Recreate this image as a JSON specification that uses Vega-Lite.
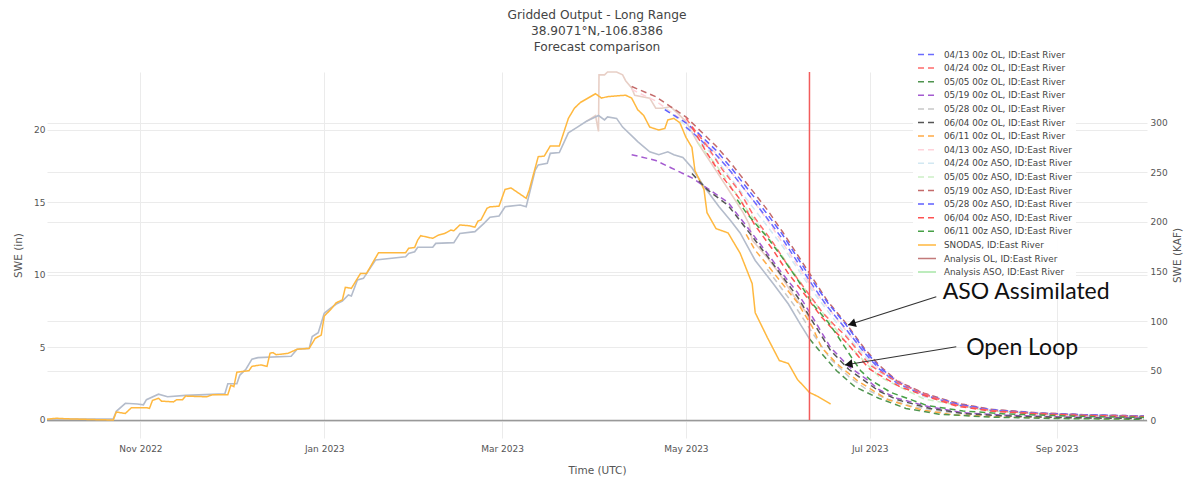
{
"$schema": "https://vega.github.io/schema/vega-lite/v6.json",
"width": 1100, "height": 366,
"autosize": {"type": "none"},
"padding": {"left": 47, "top": 72, "right": 38, "bottom": 44},
"background": "white",
"title": {"text": ["Gridded Output - Long Range", "38.9071°N,-106.8386", "Forecast comparison"], "font": "DejaVu Sans", "fontSize": 12.2, "fontWeight": "normal", "color": "#444", "lineHeight": 16, "anchor": "middle", "offset": -9},
"config": {"view": {"stroke": null}, "axis": {"domain": false, "ticks": false, "labelFont": "DejaVu Sans", "labelFontSize": 9, "labelColor": "#555", "titleFont": "DejaVu Sans", "titleFontSize": 10.5, "titleFontWeight": "normal", "titleColor": "#555", "gridColor": "#ebebeb", "gridWidth": 1}},
"datasets": {
"an": [
{"s":"OL","d":"2022-10-01","v":0.05},{"s":"OL","d":"2022-10-23","v":0.08},{"s":"OL","d":"2022-10-24","v":0.6},{"s":"OL","d":"2022-10-27","v":1.15},{"s":"OL","d":"2022-10-31","v":1.1},{"s":"OL","d":"2022-11-02","v":1.05},{"s":"OL","d":"2022-11-03","v":1.4},{"s":"OL","d":"2022-11-07","v":1.78},{"s":"OL","d":"2022-11-10","v":1.6},{"s":"OL","d":"2022-11-16","v":1.7},{"s":"OL","d":"2022-11-29","v":1.8},{"s":"OL","d":"2022-11-30","v":2.5},{"s":"OL","d":"2022-12-03","v":2.5},{"s":"OL","d":"2022-12-04","v":3.1},{"s":"OL","d":"2022-12-06","v":3.5},{"s":"OL","d":"2022-12-08","v":4.2},{"s":"OL","d":"2022-12-10","v":4.3},{"s":"OL","d":"2022-12-21","v":4.4},{"s":"OL","d":"2022-12-23","v":4.88},{"s":"OL","d":"2022-12-27","v":4.94},{"s":"OL","d":"2022-12-28","v":5.75},{"s":"OL","d":"2022-12-30","v":6.02},{"s":"OL","d":"2023-01-01","v":7.36},{"s":"OL","d":"2023-01-03","v":7.7},{"s":"OL","d":"2023-01-05","v":8.0},{"s":"OL","d":"2023-01-07","v":8.2},{"s":"OL","d":"2023-01-09","v":8.62},{"s":"OL","d":"2023-01-10","v":8.55},{"s":"OL","d":"2023-01-12","v":9.66},{"s":"OL","d":"2023-01-14","v":9.77},{"s":"OL","d":"2023-01-18","v":11.03},{"s":"OL","d":"2023-01-28","v":11.26},{"s":"OL","d":"2023-01-29","v":11.49},{"s":"OL","d":"2023-01-31","v":11.6},{"s":"OL","d":"2023-02-01","v":11.91},{"s":"OL","d":"2023-02-06","v":11.91},{"s":"OL","d":"2023-02-07","v":12.18},{"s":"OL","d":"2023-02-13","v":12.23},{"s":"OL","d":"2023-02-15","v":12.87},{"s":"OL","d":"2023-02-20","v":12.99},{"s":"OL","d":"2023-02-23","v":13.56},{"s":"OL","d":"2023-02-25","v":13.98},{"s":"OL","d":"2023-02-28","v":14.07},{"s":"OL","d":"2023-03-02","v":14.71},{"s":"OL","d":"2023-03-07","v":14.83},{"s":"OL","d":"2023-03-09","v":14.71},{"s":"OL","d":"2023-03-12","v":17.24},{"s":"OL","d":"2023-03-13","v":17.59},{"s":"OL","d":"2023-03-16","v":17.7},{"s":"OL","d":"2023-03-17","v":18.39},{"s":"OL","d":"2023-03-20","v":18.45},{"s":"OL","d":"2023-03-23","v":19.8},{"s":"OL","d":"2023-03-26","v":20.2},{"s":"OL","d":"2023-03-29","v":20.6},{"s":"OL","d":"2023-04-02","v":21.0},{"s":"OL","d":"2023-04-04","v":20.7},{"s":"OL","d":"2023-04-05","v":20.9},{"s":"OL","d":"2023-04-08","v":20.8},{"s":"OL","d":"2023-04-10","v":20.2},{"s":"OL","d":"2023-04-14","v":19.4},{"s":"OL","d":"2023-04-15","v":19.2},{"s":"OL","d":"2023-04-19","v":18.5},{"s":"OL","d":"2023-04-22","v":18.3},{"s":"OL","d":"2023-04-25","v":18.5},{"s":"OL","d":"2023-04-27","v":18.3},{"s":"OL","d":"2023-04-30","v":18.1},{"s":"OL","d":"2023-05-03","v":17.4},{"s":"OL","d":"2023-05-07","v":16.1},{"s":"OL","d":"2023-05-12","v":14.7},{"s":"OL","d":"2023-05-16","v":13.7},{"s":"OL","d":"2023-05-19","v":12.9},{"s":"OL","d":"2023-05-24","v":11.0},{"s":"OL","d":"2023-05-30","v":9.4},{"s":"OL","d":"2023-06-04","v":8.0},{"s":"OL","d":"2023-06-08","v":6.6},{"s":"OL","d":"2023-06-11","v":5.6},
{"s":"ASO","d":"2023-03-29","v":20.6},{"s":"ASO","d":"2023-04-01","v":21.0},{"s":"ASO","d":"2023-04-02","v":19.9},{"s":"ASO","d":"2023-04-02T04:00:00Z","v":23.8},{"s":"ASO","d":"2023-04-04","v":23.8},{"s":"ASO","d":"2023-04-05","v":24.0},{"s":"ASO","d":"2023-04-08","v":24.0},{"s":"ASO","d":"2023-04-10","v":23.8},{"s":"ASO","d":"2023-04-11","v":23.4},{"s":"ASO","d":"2023-04-13","v":22.9},{"s":"ASO","d":"2023-04-14","v":22.4},{"s":"ASO","d":"2023-04-19","v":22.2},{"s":"ASO","d":"2023-04-21","v":21.5},{"s":"ASO","d":"2023-04-23","v":21.5},{"s":"ASO","d":"2023-04-26","v":21.6},{"s":"ASO","d":"2023-04-28","v":21.2},{"s":"ASO","d":"2023-05-01","v":20.6},{"s":"ASO","d":"2023-05-05","v":19.1},{"s":"ASO","d":"2023-05-11","v":17.2},{"s":"ASO","d":"2023-05-16","v":15.6},{"s":"ASO","d":"2023-05-20","v":14.3},{"s":"ASO","d":"2023-05-22","v":13.5},{"s":"ASO","d":"2023-05-23","v":12.4},{"s":"ASO","d":"2023-05-28","v":11.2},{"s":"ASO","d":"2023-06-01","v":10.1},{"s":"ASO","d":"2023-06-06","v":8.5},{"s":"ASO","d":"2023-06-10","v":7.4},{"s":"ASO","d":"2023-06-11","v":6.9}
],
"fc": [
{"s":"SNODAS","d":"2022-10-01","v":0.05},{"s":"SNODAS","d":"2022-10-04","v":0.12},{"s":"SNODAS","d":"2022-10-08","v":0.08},{"s":"SNODAS","d":"2022-10-18","v":0.02},{"s":"SNODAS","d":"2022-10-23","v":0.0},{"s":"SNODAS","d":"2022-10-24","v":0.55},{"s":"SNODAS","d":"2022-10-27","v":0.45},{"s":"SNODAS","d":"2022-10-29","v":0.85},{"s":"SNODAS","d":"2022-11-03","v":0.85},{"s":"SNODAS","d":"2022-11-04","v":0.8},{"s":"SNODAS","d":"2022-11-05","v":1.35},{"s":"SNODAS","d":"2022-11-07","v":1.5},{"s":"SNODAS","d":"2022-11-08","v":1.3},{"s":"SNODAS","d":"2022-11-12","v":1.25},{"s":"SNODAS","d":"2022-11-13","v":1.4},{"s":"SNODAS","d":"2022-11-15","v":1.4},{"s":"SNODAS","d":"2022-11-16","v":1.65},{"s":"SNODAS","d":"2022-11-23","v":1.6},{"s":"SNODAS","d":"2022-11-25","v":1.75},{"s":"SNODAS","d":"2022-11-30","v":1.75},{"s":"SNODAS","d":"2022-12-01","v":2.4},{"s":"SNODAS","d":"2022-12-02","v":2.3},{"s":"SNODAS","d":"2022-12-03","v":3.3},{"s":"SNODAS","d":"2022-12-07","v":3.4},{"s":"SNODAS","d":"2022-12-08","v":3.7},{"s":"SNODAS","d":"2022-12-11","v":3.8},{"s":"SNODAS","d":"2022-12-13","v":3.7},{"s":"SNODAS","d":"2022-12-14","v":4.6},{"s":"SNODAS","d":"2022-12-15","v":4.65},{"s":"SNODAS","d":"2022-12-16","v":4.5},{"s":"SNODAS","d":"2022-12-20","v":4.6},{"s":"SNODAS","d":"2022-12-23","v":4.88},{"s":"SNODAS","d":"2022-12-27","v":4.94},{"s":"SNODAS","d":"2022-12-29","v":5.63},{"s":"SNODAS","d":"2022-12-31","v":5.86},{"s":"SNODAS","d":"2023-01-01","v":7.17},{"s":"SNODAS","d":"2023-01-03","v":7.59},{"s":"SNODAS","d":"2023-01-05","v":8.09},{"s":"SNODAS","d":"2023-01-07","v":8.28},{"s":"SNODAS","d":"2023-01-08","v":9.15},{"s":"SNODAS","d":"2023-01-10","v":9.08},{"s":"SNODAS","d":"2023-01-13","v":10.1},{"s":"SNODAS","d":"2023-01-15","v":10.1},{"s":"SNODAS","d":"2023-01-19","v":11.54},{"s":"SNODAS","d":"2023-01-28","v":11.54},{"s":"SNODAS","d":"2023-01-29","v":11.84},{"s":"SNODAS","d":"2023-01-31","v":11.9},{"s":"SNODAS","d":"2023-02-01","v":12.41},{"s":"SNODAS","d":"2023-02-02","v":12.71},{"s":"SNODAS","d":"2023-02-06","v":12.53},{"s":"SNODAS","d":"2023-02-08","v":12.76},{"s":"SNODAS","d":"2023-02-10","v":12.87},{"s":"SNODAS","d":"2023-02-12","v":13.1},{"s":"SNODAS","d":"2023-02-13","v":13.05},{"s":"SNODAS","d":"2023-02-15","v":13.45},{"s":"SNODAS","d":"2023-02-18","v":13.4},{"s":"SNODAS","d":"2023-02-20","v":13.3},{"s":"SNODAS","d":"2023-02-21","v":13.72},{"s":"SNODAS","d":"2023-02-22","v":13.8},{"s":"SNODAS","d":"2023-02-24","v":14.6},{"s":"SNODAS","d":"2023-02-25","v":14.7},{"s":"SNODAS","d":"2023-02-28","v":14.75},{"s":"SNODAS","d":"2023-03-02","v":15.91},{"s":"SNODAS","d":"2023-03-04","v":16.0},{"s":"SNODAS","d":"2023-03-09","v":15.29},{"s":"SNODAS","d":"2023-03-10","v":15.86},{"s":"SNODAS","d":"2023-03-13","v":18.16},{"s":"SNODAS","d":"2023-03-15","v":18.2},{"s":"SNODAS","d":"2023-03-17","v":18.9},{"s":"SNODAS","d":"2023-03-20","v":18.9},{"s":"SNODAS","d":"2023-03-23","v":20.8},{"s":"SNODAS","d":"2023-03-25","v":21.5},{"s":"SNODAS","d":"2023-03-27","v":21.9},{"s":"SNODAS","d":"2023-04-01","v":22.5},{"s":"SNODAS","d":"2023-04-03","v":22.2},{"s":"SNODAS","d":"2023-04-05","v":22.3},{"s":"SNODAS","d":"2023-04-11","v":22.4},{"s":"SNODAS","d":"2023-04-13","v":22.2},{"s":"SNODAS","d":"2023-04-15","v":21.4},{"s":"SNODAS","d":"2023-04-17","v":21.0},{"s":"SNODAS","d":"2023-04-19","v":20.2},{"s":"SNODAS","d":"2023-04-22","v":20.0},{"s":"SNODAS","d":"2023-04-24","v":20.1},{"s":"SNODAS","d":"2023-04-25","v":20.7},{"s":"SNODAS","d":"2023-04-27","v":20.8},{"s":"SNODAS","d":"2023-04-29","v":20.5},{"s":"SNODAS","d":"2023-05-01","v":19.5},{"s":"SNODAS","d":"2023-05-03","v":18.8},{"s":"SNODAS","d":"2023-05-04","v":17.2},{"s":"SNODAS","d":"2023-05-07","v":15.9},{"s":"SNODAS","d":"2023-05-08","v":14.3},{"s":"SNODAS","d":"2023-05-11","v":13.2},{"s":"SNODAS","d":"2023-05-15","v":12.9},{"s":"SNODAS","d":"2023-05-19","v":11.5},{"s":"SNODAS","d":"2023-05-23","v":9.4},{"s":"SNODAS","d":"2023-05-24","v":7.4},{"s":"SNODAS","d":"2023-05-28","v":5.7},{"s":"SNODAS","d":"2023-06-01","v":4.1},{"s":"SNODAS","d":"2023-06-04","v":3.9},{"s":"SNODAS","d":"2023-06-07","v":2.8},{"s":"SNODAS","d":"2023-06-11","v":1.9},{"s":"SNODAS","d":"2023-06-14","v":1.6},{"s":"SNODAS","d":"2023-06-18","v":1.1},
{"s":"04/13 00z ASO","d":"2023-04-13","v":22.8},{"s":"04/13 00z ASO","d":"2023-04-21","v":22.0},{"s":"04/13 00z ASO","d":"2023-05-01","v":20.5},{"s":"04/13 00z ASO","d":"2023-05-11","v":18.4},{"s":"04/13 00z ASO","d":"2023-05-22","v":15.5},{"s":"04/13 00z ASO","d":"2023-05-28","v":13.8},{"s":"04/13 00z ASO","d":"2023-06-04","v":11.6},{"s":"04/13 00z ASO","d":"2023-06-12","v":9.1},{"s":"04/13 00z ASO","d":"2023-06-23","v":6.2},{"s":"04/13 00z ASO","d":"2023-07-04","v":3.5},{"s":"04/13 00z ASO","d":"2023-07-19","v":1.7},{"s":"04/13 00z ASO","d":"2023-08-10","v":0.7},{"s":"04/13 00z ASO","d":"2023-09-10","v":0.35},{"s":"04/13 00z ASO","d":"2023-09-30","v":0.26},
{"s":"04/24 00z ASO","d":"2023-04-24","v":21.5},{"s":"04/24 00z ASO","d":"2023-05-01","v":20.3},{"s":"04/24 00z ASO","d":"2023-05-11","v":18.0},{"s":"04/24 00z ASO","d":"2023-05-22","v":15.0},{"s":"04/24 00z ASO","d":"2023-06-02","v":12.0},{"s":"04/24 00z ASO","d":"2023-06-12","v":8.9},{"s":"04/24 00z ASO","d":"2023-06-23","v":5.9},{"s":"04/24 00z ASO","d":"2023-07-04","v":3.3},{"s":"04/24 00z ASO","d":"2023-07-19","v":1.6},{"s":"04/24 00z ASO","d":"2023-08-10","v":0.65},{"s":"04/24 00z ASO","d":"2023-09-10","v":0.33},{"s":"04/24 00z ASO","d":"2023-09-30","v":0.25},
{"s":"05/05 00z ASO","d":"2023-05-05","v":19.1},{"s":"05/05 00z ASO","d":"2023-05-11","v":17.6},{"s":"05/05 00z ASO","d":"2023-05-22","v":14.3},{"s":"05/05 00z ASO","d":"2023-06-02","v":11.3},{"s":"05/05 00z ASO","d":"2023-06-12","v":8.3},{"s":"05/05 00z ASO","d":"2023-06-23","v":5.4},{"s":"05/05 00z ASO","d":"2023-07-04","v":3.0},{"s":"05/05 00z ASO","d":"2023-07-19","v":1.45},{"s":"05/05 00z ASO","d":"2023-08-10","v":0.6},{"s":"05/05 00z ASO","d":"2023-09-10","v":0.3},{"s":"05/05 00z ASO","d":"2023-09-30","v":0.23},
{"s":"05/28 00z OL","d":"2023-05-28","v":10.4},{"s":"05/28 00z OL","d":"2023-06-02","v":9.0},{"s":"05/28 00z OL","d":"2023-06-07","v":7.6},{"s":"05/28 00z OL","d":"2023-06-12","v":6.0},{"s":"05/28 00z OL","d":"2023-06-18","v":4.2},{"s":"05/28 00z OL","d":"2023-06-24","v":3.0},{"s":"05/28 00z OL","d":"2023-06-30","v":2.1},{"s":"05/28 00z OL","d":"2023-07-06","v":1.5},{"s":"05/28 00z OL","d":"2023-07-15","v":0.95},{"s":"05/28 00z OL","d":"2023-07-26","v":0.55},{"s":"05/28 00z OL","d":"2023-08-08","v":0.32},{"s":"05/28 00z OL","d":"2023-08-25","v":0.2},{"s":"05/28 00z OL","d":"2023-09-10","v":0.14},{"s":"05/28 00z OL","d":"2023-09-30","v":0.1},
{"s":"05/19 00z ASO","d":"2023-04-13","v":23.0},{"s":"05/19 00z ASO","d":"2023-04-21","v":22.3},{"s":"05/19 00z ASO","d":"2023-04-26","v":21.6},{"s":"05/19 00z ASO","d":"2023-05-01","v":20.9},{"s":"05/19 00z ASO","d":"2023-05-05","v":20.1},{"s":"05/19 00z ASO","d":"2023-05-11","v":18.9},{"s":"05/19 00z ASO","d":"2023-05-16","v":17.7},{"s":"05/19 00z ASO","d":"2023-05-22","v":16.1},{"s":"05/19 00z ASO","d":"2023-05-28","v":14.5},{"s":"05/19 00z ASO","d":"2023-06-02","v":13.0},{"s":"05/19 00z ASO","d":"2023-06-07","v":11.4},{"s":"05/19 00z ASO","d":"2023-06-12","v":9.8},{"s":"05/19 00z ASO","d":"2023-06-17","v":8.2},{"s":"05/19 00z ASO","d":"2023-06-23","v":6.7},{"s":"05/19 00z ASO","d":"2023-06-29","v":5.0},{"s":"05/19 00z ASO","d":"2023-07-04","v":3.8},{"s":"05/19 00z ASO","d":"2023-07-10","v":2.7},{"s":"05/19 00z ASO","d":"2023-07-19","v":1.85},{"s":"05/19 00z ASO","d":"2023-07-30","v":1.15},{"s":"05/19 00z ASO","d":"2023-08-10","v":0.75},{"s":"05/19 00z ASO","d":"2023-08-25","v":0.5},{"s":"05/19 00z ASO","d":"2023-09-10","v":0.37},{"s":"05/19 00z ASO","d":"2023-09-30","v":0.28},
{"s":"05/28 00z ASO","d":"2023-04-24","v":21.4},{"s":"05/28 00z ASO","d":"2023-05-01","v":20.5},{"s":"05/28 00z ASO","d":"2023-05-05","v":19.8},{"s":"05/28 00z ASO","d":"2023-05-11","v":18.6},{"s":"05/28 00z ASO","d":"2023-05-16","v":17.4},{"s":"05/28 00z ASO","d":"2023-05-22","v":15.8},{"s":"05/28 00z ASO","d":"2023-05-28","v":14.2},{"s":"05/28 00z ASO","d":"2023-06-02","v":12.8},{"s":"05/28 00z ASO","d":"2023-06-07","v":11.2},{"s":"05/28 00z ASO","d":"2023-06-12","v":9.6},{"s":"05/28 00z ASO","d":"2023-06-17","v":8.1},{"s":"05/28 00z ASO","d":"2023-06-23","v":6.6},{"s":"05/28 00z ASO","d":"2023-06-29","v":4.9},{"s":"05/28 00z ASO","d":"2023-07-04","v":3.7},{"s":"05/28 00z ASO","d":"2023-07-10","v":2.65},{"s":"05/28 00z ASO","d":"2023-07-19","v":1.8},{"s":"05/28 00z ASO","d":"2023-07-30","v":1.1},{"s":"05/28 00z ASO","d":"2023-08-10","v":0.72},{"s":"05/28 00z ASO","d":"2023-08-25","v":0.48},{"s":"05/28 00z ASO","d":"2023-09-10","v":0.36},{"s":"05/28 00z ASO","d":"2023-09-30","v":0.27},
{"s":"04/13 00z OL","d":"2023-05-01","v":20.2},{"s":"04/13 00z OL","d":"2023-05-05","v":19.5},{"s":"04/13 00z OL","d":"2023-05-11","v":18.3},{"s":"04/13 00z OL","d":"2023-05-16","v":17.1},{"s":"04/13 00z OL","d":"2023-05-22","v":15.5},{"s":"04/13 00z OL","d":"2023-05-28","v":13.9},{"s":"04/13 00z OL","d":"2023-06-02","v":12.5},{"s":"04/13 00z OL","d":"2023-06-07","v":10.9},{"s":"04/13 00z OL","d":"2023-06-12","v":9.3},{"s":"04/13 00z OL","d":"2023-06-17","v":7.8},{"s":"04/13 00z OL","d":"2023-06-23","v":6.3},{"s":"04/13 00z OL","d":"2023-06-29","v":4.7},{"s":"04/13 00z OL","d":"2023-07-04","v":3.55},{"s":"04/13 00z OL","d":"2023-07-10","v":2.55},{"s":"04/13 00z OL","d":"2023-07-19","v":1.72},{"s":"04/13 00z OL","d":"2023-07-30","v":1.05},{"s":"04/13 00z OL","d":"2023-08-10","v":0.68},{"s":"04/13 00z OL","d":"2023-08-25","v":0.46},{"s":"04/13 00z OL","d":"2023-09-10","v":0.34},{"s":"04/13 00z OL","d":"2023-09-30","v":0.26},
{"s":"04/24 00z OL","d":"2023-05-01","v":20.8},{"s":"04/24 00z OL","d":"2023-05-08","v":18.9},{"s":"04/24 00z OL","d":"2023-05-13","v":17.3},{"s":"04/24 00z OL","d":"2023-05-19","v":15.7},{"s":"04/24 00z OL","d":"2023-05-24","v":13.9},{"s":"04/24 00z OL","d":"2023-05-30","v":12.2},{"s":"04/24 00z OL","d":"2023-06-04","v":10.6},{"s":"04/24 00z OL","d":"2023-06-10","v":8.9},{"s":"04/24 00z OL","d":"2023-06-15","v":7.5},{"s":"04/24 00z OL","d":"2023-06-19","v":6.6},{"s":"04/24 00z OL","d":"2023-06-23","v":5.8},{"s":"04/24 00z OL","d":"2023-07-01","v":3.8},{"s":"04/24 00z OL","d":"2023-07-11","v":2.5},{"s":"04/24 00z OL","d":"2023-07-21","v":1.65},{"s":"04/24 00z OL","d":"2023-07-30","v":1.02},{"s":"04/24 00z OL","d":"2023-08-10","v":0.66},{"s":"04/24 00z OL","d":"2023-08-25","v":0.44},{"s":"04/24 00z OL","d":"2023-09-10","v":0.32},{"s":"04/24 00z OL","d":"2023-09-30","v":0.24},
{"s":"06/04 00z ASO","d":"2023-05-03","v":20.2},{"s":"06/04 00z ASO","d":"2023-05-08","v":18.4},{"s":"06/04 00z ASO","d":"2023-05-13","v":16.8},{"s":"06/04 00z ASO","d":"2023-05-19","v":15.2},{"s":"06/04 00z ASO","d":"2023-05-24","v":13.4},{"s":"06/04 00z ASO","d":"2023-05-30","v":11.7},{"s":"06/04 00z ASO","d":"2023-06-04","v":10.1},{"s":"06/04 00z ASO","d":"2023-06-10","v":8.5},{"s":"06/04 00z ASO","d":"2023-06-15","v":7.1},{"s":"06/04 00z ASO","d":"2023-06-19","v":6.2},{"s":"06/04 00z ASO","d":"2023-06-23","v":5.4},{"s":"06/04 00z ASO","d":"2023-07-01","v":3.5},{"s":"06/04 00z ASO","d":"2023-07-11","v":2.3},{"s":"06/04 00z ASO","d":"2023-07-21","v":1.55},{"s":"06/04 00z ASO","d":"2023-07-30","v":0.95},{"s":"06/04 00z ASO","d":"2023-08-10","v":0.62},{"s":"06/04 00z ASO","d":"2023-08-25","v":0.42},{"s":"06/04 00z ASO","d":"2023-09-10","v":0.3},{"s":"06/04 00z ASO","d":"2023-09-30","v":0.22},
{"s":"06/11 00z ASO","d":"2023-05-18","v":15.2},{"s":"06/11 00z ASO","d":"2023-05-21","v":14.3},{"s":"06/11 00z ASO","d":"2023-05-28","v":12.6},{"s":"06/11 00z ASO","d":"2023-06-02","v":11.2},{"s":"06/11 00z ASO","d":"2023-06-07","v":9.7},{"s":"06/11 00z ASO","d":"2023-06-12","v":8.0},{"s":"06/11 00z ASO","d":"2023-06-17","v":6.8},{"s":"06/11 00z ASO","d":"2023-06-20","v":5.9},{"s":"06/11 00z ASO","d":"2023-06-25","v":4.3},{"s":"06/11 00z ASO","d":"2023-06-28","v":3.4},{"s":"06/11 00z ASO","d":"2023-07-01","v":2.8},{"s":"06/11 00z ASO","d":"2023-07-08","v":1.9},{"s":"06/11 00z ASO","d":"2023-07-20","v":1.0},{"s":"06/11 00z ASO","d":"2023-08-01","v":0.62},{"s":"06/11 00z ASO","d":"2023-08-15","v":0.42},{"s":"06/11 00z ASO","d":"2023-09-01","v":0.3},{"s":"06/11 00z ASO","d":"2023-09-15","v":0.22},{"s":"06/11 00z ASO","d":"2023-09-30","v":0.18},
{"s":"06/11 00z OL","d":"2023-05-21","v":12.8},{"s":"06/11 00z OL","d":"2023-05-24","v":11.7},{"s":"06/11 00z OL","d":"2023-05-28","v":10.7},{"s":"06/11 00z OL","d":"2023-06-02","v":9.4},{"s":"06/11 00z OL","d":"2023-06-07","v":8.1},{"s":"06/11 00z OL","d":"2023-06-12","v":6.4},{"s":"06/11 00z OL","d":"2023-06-15","v":5.0},{"s":"06/11 00z OL","d":"2023-06-20","v":3.9},{"s":"06/11 00z OL","d":"2023-06-27","v":2.7},{"s":"06/11 00z OL","d":"2023-07-07","v":1.4},{"s":"06/11 00z OL","d":"2023-07-18","v":0.7},{"s":"06/11 00z OL","d":"2023-07-29","v":0.35},{"s":"06/11 00z OL","d":"2023-08-15","v":0.2},{"s":"06/11 00z OL","d":"2023-09-10","v":0.12},{"s":"06/11 00z OL","d":"2023-09-30","v":0.08},
{"s":"05/19 00z OL","d":"2023-04-13","v":18.3},{"s":"05/19 00z OL","d":"2023-04-21","v":17.9},{"s":"05/19 00z OL","d":"2023-04-26","v":17.4},{"s":"05/19 00z OL","d":"2023-05-03","v":16.7},{"s":"05/19 00z OL","d":"2023-05-08","v":16.0},{"s":"05/19 00z OL","d":"2023-05-15","v":15.0},{"s":"05/19 00z OL","d":"2023-05-21","v":13.4},{"s":"05/19 00z OL","d":"2023-05-28","v":11.5},{"s":"05/19 00z OL","d":"2023-06-02","v":10.1},{"s":"05/19 00z OL","d":"2023-06-07","v":8.8},{"s":"05/19 00z OL","d":"2023-06-12","v":7.1},{"s":"05/19 00z OL","d":"2023-06-18","v":5.0},{"s":"05/19 00z OL","d":"2023-06-24","v":3.7},{"s":"05/19 00z OL","d":"2023-06-30","v":2.8},{"s":"05/19 00z OL","d":"2023-07-04","v":2.1},{"s":"05/19 00z OL","d":"2023-07-10","v":1.5},{"s":"05/19 00z OL","d":"2023-07-21","v":0.9},{"s":"05/19 00z OL","d":"2023-08-01","v":0.5},{"s":"05/19 00z OL","d":"2023-08-15","v":0.33},{"s":"05/19 00z OL","d":"2023-09-01","v":0.22},{"s":"05/19 00z OL","d":"2023-09-15","v":0.17},{"s":"05/19 00z OL","d":"2023-09-30","v":0.13},
{"s":"06/04 00z OL","d":"2023-05-03","v":17.0},{"s":"06/04 00z OL","d":"2023-05-08","v":15.9},{"s":"06/04 00z OL","d":"2023-05-15","v":14.8},{"s":"06/04 00z OL","d":"2023-05-21","v":13.2},{"s":"06/04 00z OL","d":"2023-05-28","v":11.3},{"s":"06/04 00z OL","d":"2023-06-02","v":9.9},{"s":"06/04 00z OL","d":"2023-06-07","v":8.5},{"s":"06/04 00z OL","d":"2023-06-12","v":6.8},{"s":"06/04 00z OL","d":"2023-06-18","v":4.8},{"s":"06/04 00z OL","d":"2023-06-24","v":3.5},{"s":"06/04 00z OL","d":"2023-06-30","v":2.6},{"s":"06/04 00z OL","d":"2023-07-04","v":2.0},{"s":"06/04 00z OL","d":"2023-07-10","v":1.4},{"s":"06/04 00z OL","d":"2023-07-21","v":0.8},{"s":"06/04 00z OL","d":"2023-08-01","v":0.45},{"s":"06/04 00z OL","d":"2023-08-15","v":0.28},{"s":"06/04 00z OL","d":"2023-09-01","v":0.18},{"s":"06/04 00z OL","d":"2023-09-15","v":0.13},{"s":"06/04 00z OL","d":"2023-09-30","v":0.1},
{"s":"05/05 00z OL","d":"2023-06-11","v":5.6},{"s":"05/05 00z OL","d":"2023-06-15","v":4.6},{"s":"05/05 00z OL","d":"2023-06-20","v":3.4},{"s":"05/05 00z OL","d":"2023-06-26","v":2.3},{"s":"05/05 00z OL","d":"2023-07-04","v":1.5},{"s":"05/05 00z OL","d":"2023-07-13","v":0.8},{"s":"05/05 00z OL","d":"2023-07-24","v":0.4},{"s":"05/05 00z OL","d":"2023-08-10","v":0.2},{"s":"05/05 00z OL","d":"2023-09-01","v":0.1},{"s":"05/05 00z OL","d":"2023-09-30","v":0.05}
],
"marks": [{"d":"2023-06-11","v":0,"v2":24}],
"arr": [
{"k":"ASO","d":"2023-07-23T02:00:00Z","v":8.5,"d2":"2023-06-23T19:00:00Z","v2":6.55,"hd":"2023-06-25T01:00:00Z","hv":6.63},
{"k":"OL","d":"2023-07-29T17:00:00Z","v":5.05,"d2":"2023-06-22T17:00:00Z","v2":3.79,"hd":"2023-06-24T00:00:00Z","hv":3.84}
],
"ann": [
{"t":"ASO Assimilated","d":"2023-07-25T05:00:00Z","v":8.34},
{"t":"Open Loop","d":"2023-08-02T00:00:00Z","v":4.48}
]
},
"layer": [
{
"data": {"values": [{"v": 0}]},
"mark": {"type": "rule", "color": "#999", "strokeWidth": 1.5},
"encoding": {
"y": {"field": "v", "type": "quantitative", "scale": {"domain": [-17.63, 351.1]}, "axis": {"orient": "right", "title": "SWE (KAF)", "values": [0,50,100,150,200,250,300], "grid": true, "labelPadding": 3, "titlePadding": 15, "titleAngle": 270}}
}
},
{
"layer": [
{
"data": {"name": "an"},
"transform": [{"filter": "datum.s == 'ASO'"}],
"mark": {"type": "line", "color": "#e8cfc6", "strokeWidth": 1.6},
"encoding": {
"x": {"field": "d", "type": "temporal", "scale": {"type": "utc", "domain": [{"year":2022,"month":10,"date":1,"utc":true},{"year":2023,"month":10,"date":1,"utc":true}]},
  "axis": {"title": "Time (UTC)", "values": [{"year":2022,"month":11,"date":1,"utc":true},{"year":2023,"month":1,"date":1,"utc":true},{"year":2023,"month":3,"date":1,"utc":true},{"year":2023,"month":5,"date":1,"utc":true},{"year":2023,"month":7,"date":1,"utc":true},{"year":2023,"month":9,"date":1,"utc":true}], "format": "%b %Y", "grid": true, "labelPadding": 6, "titlePadding": 12}},
"y": {"field": "v", "type": "quantitative", "scale": {"domain": [-1.2414, 24.0]}, "axis": {"orient": "left", "title": "SWE (in)", "values": [0,5,10,15,20], "grid": true, "labelPadding": 2, "titlePadding": 10}}
}
},
{
"data": {"name": "an"},
"transform": [{"filter": "datum.s == 'OL'"}],
"mark": {"type": "line", "color": "#b4bccb", "strokeWidth": 1.6},
"encoding": {
"x": {"field": "d", "type": "temporal", "scale": {"type": "utc", "domain": [{"year":2022,"month":10,"date":1,"utc":true},{"year":2023,"month":10,"date":1,"utc":true}]}},
"y": {"field": "v", "type": "quantitative", "scale": {"domain": [-1.2414, 24.0]}}
}
},
{
"data": {"name": "fc"},
"mark": {"type": "line", "strokeWidth": 1.5},
"encoding": {
"x": {"field": "d", "type": "temporal", "scale": {"type": "utc", "domain": [{"year":2022,"month":10,"date":1,"utc":true},{"year":2023,"month":10,"date":1,"utc":true}]}},
"y": {"field": "v", "type": "quantitative", "scale": {"domain": [-1.2414, 24.0]}},
"color": {"field": "s", "type": "nominal",
  "scale": {"domain": ["04/13 00z OL","04/24 00z OL","05/05 00z OL","05/19 00z OL","05/28 00z OL","06/04 00z OL","06/11 00z OL","04/13 00z ASO","04/24 00z ASO","05/05 00z ASO","05/19 00z ASO","05/28 00z ASO","06/04 00z ASO","06/11 00z ASO","SNODAS","Analysis OL","Analysis ASO"],
   "range": ["#6b6bff","#ff6b6b","#4f944f","#a45bd0","#c8c8c8","#555555","#ffab45","#ffd2da","#d2e8f2","#cdf0c6","#c46a6a","#5f5fff","#ff5252","#46a046","#ffb83f","#c27a7a","#a8e6a8"]},
  "legend": {"title": null, "orient": "none", "legendX": 866, "legendY": -28, "padding": 4, "fillColor": "rgba(255,255,255,0.95)", "symbolType": "stroke", "symbolSize": 324, "symbolStrokeWidth": 1.5, "symbolOffset": 0, "labelOffset": 7, "labelFont": "DejaVu Sans", "labelFontSize": 8.8, "labelColor": "#444", "labelLimit": 400, "rowPadding": 0.6, "clipHeight": 13, "labelExpr": "datum.label + ', ID:East River'"}},
"strokeDash": {"field": "s", "type": "nominal",
  "scale": {"domain": ["04/13 00z OL","04/24 00z OL","05/05 00z OL","05/19 00z OL","05/28 00z OL","06/04 00z OL","06/11 00z OL","04/13 00z ASO","04/24 00z ASO","05/05 00z ASO","05/19 00z ASO","05/28 00z ASO","06/04 00z ASO","06/11 00z ASO","SNODAS","Analysis OL","Analysis ASO"],
   "range": [[6,4],[6,4],[6,4],[6,4],[6,4],[6,4],[6,4],[6,4],[6,4],[6,4],[6,4],[6,4],[6,4],[6,4],[1,0],[1,0],[1,0]]},
  "legend": {"title": null, "orient": "none", "legendX": 866, "legendY": -28, "padding": 4, "fillColor": "rgba(255,255,255,0.95)", "symbolType": "stroke", "symbolSize": 324, "symbolStrokeWidth": 1.5, "symbolOffset": 0, "labelOffset": 7, "labelFont": "DejaVu Sans", "labelFontSize": 8.8, "labelColor": "#444", "labelLimit": 400, "rowPadding": 0.6, "clipHeight": 13, "labelExpr": "datum.label + ', ID:East River'"}}
}
},
{
"data": {"name": "marks"},
"mark": {"type": "rule", "color": "#f25c5c", "strokeWidth": 1.5},
"encoding": {
"x": {"field": "d", "type": "temporal", "scale": {"type": "utc", "domain": [{"year":2022,"month":10,"date":1,"utc":true},{"year":2023,"month":10,"date":1,"utc":true}]}},
"y": {"field": "v", "type": "quantitative", "scale": {"domain": [-1.2414, 24.0]}},
"y2": {"field": "v2"}
}
},
{
"data": {"name": "arr"},
"mark": {"type": "rule", "color": "#333", "strokeWidth": 1.1},
"encoding": {
"x": {"field": "d", "type": "temporal", "scale": {"type": "utc", "domain": [{"year":2022,"month":10,"date":1,"utc":true},{"year":2023,"month":10,"date":1,"utc":true}]}},
"x2": {"field": "d2"},
"y": {"field": "v", "type": "quantitative", "scale": {"domain": [-1.2414, 24.0]}},
"y2": {"field": "v2"}
}
},
{
"data": {"name": "arr"},
"transform": [{"filter": "datum.k == 'ASO'"}],
"mark": {"type": "point", "shape": "triangle-right", "filled": true, "color": "#111", "opacity": 1, "size": 80, "angle": 162.3},
"encoding": {
"x": {"field": "hd", "type": "temporal", "scale": {"type": "utc", "domain": [{"year":2022,"month":10,"date":1,"utc":true},{"year":2023,"month":10,"date":1,"utc":true}]}},
"y": {"field": "hv", "type": "quantitative", "scale": {"domain": [-1.2414, 24.0]}}
}
},
{
"data": {"name": "arr"},
"transform": [{"filter": "datum.k == 'OL'"}],
"mark": {"type": "point", "shape": "triangle-right", "filled": true, "color": "#111", "opacity": 1, "size": 80, "angle": 170.7},
"encoding": {
"x": {"field": "hd", "type": "temporal", "scale": {"type": "utc", "domain": [{"year":2022,"month":10,"date":1,"utc":true},{"year":2023,"month":10,"date":1,"utc":true}]}},
"y": {"field": "hv", "type": "quantitative", "scale": {"domain": [-1.2414, 24.0]}}
}
},
{
"data": {"name": "ann"},
"mark": {"type": "text", "font": "Lato", "fontSize": 23, "color": "#111", "align": "left", "baseline": "alphabetic"},
"encoding": {
"x": {"field": "d", "type": "temporal", "scale": {"type": "utc", "domain": [{"year":2022,"month":10,"date":1,"utc":true},{"year":2023,"month":10,"date":1,"utc":true}]}},
"y": {"field": "v", "type": "quantitative", "scale": {"domain": [-1.2414, 24.0]}},
"text": {"field": "t"}
}
}
]
}
],
"resolve": {"scale": {"y": "independent"}}
}
